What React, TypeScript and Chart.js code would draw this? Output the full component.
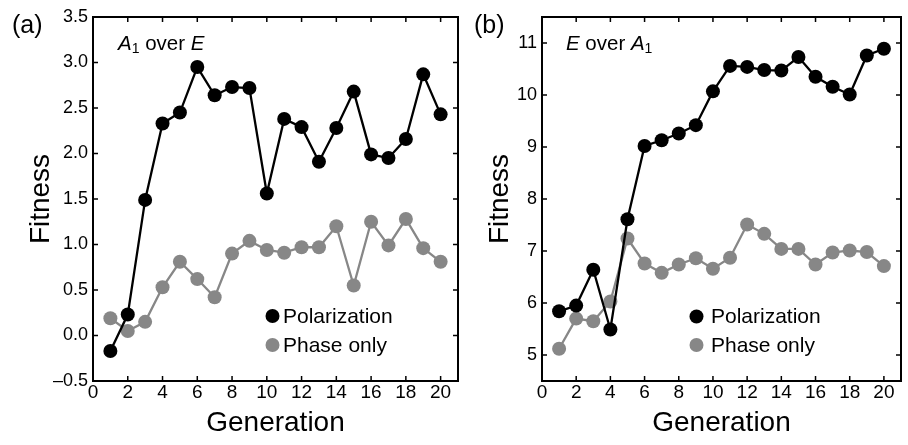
import React, { useEffect, useRef } from 'react';
import { Chart, registerables } from 'chart.js';

Chart.register(...registerables);

// ---------- data ----------
const generations = [1, 2, 3, 4, 5, 6, 7, 8, 9, 10, 11, 12, 13, 14, 15, 16, 17, 18, 19, 20];
const xTickValues = [0, 2, 4, 6, 8, 10, 12, 14, 16, 18, 20];
const leftYTickValues = [-0.5, 0, 0.5, 1.0, 1.5, 2.0, 2.5, 3.0, 3.5];
const rightYTickValues = [5, 6, 7, 8, 9, 10, 11];
const seriesLabels = ['Polarization', 'Phase only'];

const leftPolarization = [-0.17, 0.23, 1.49, 2.33, 2.45, 2.95, 2.64, 2.73, 2.72, 1.56, 2.38, 2.29, 1.91, 2.28, 2.68, 1.99, 1.95, 2.16, 2.87, 2.43];
const leftPhaseOnly = [0.19, 0.05, 0.15, 0.53, 0.81, 0.62, 0.42, 0.9, 1.04, 0.94, 0.91, 0.97, 0.97, 1.2, 0.55, 1.25, 0.99, 1.28, 0.96, 0.81];
const rightPolarization = [5.84, 5.95, 6.64, 5.49, 7.61, 9.02, 9.13, 9.26, 9.42, 10.07, 10.56, 10.54, 10.48, 10.47, 10.73, 10.35, 10.16, 10.01, 10.76, 10.89];
const rightPhaseOnly = [5.12, 5.7, 5.65, 6.03, 7.24, 6.76, 6.58, 6.74, 6.86, 6.66, 6.87, 7.51, 7.33, 7.04, 7.04, 6.74, 6.97, 7.01, 6.98, 6.71];

const SANS = '"Liberation Sans", Arial, sans-serif';
const NARROW = '"Liberation Sans Narrow", "Liberation Sans", Arial, sans-serif';
const BLACK = '#000000';
const GRAY = '#878787';

// ---------- plugins ----------
const framePlugin = {
  id: 'frameTicks',
  afterDraw(chart: any) {
    const { ctx, chartArea } = chart;
    const { left, right, top, bottom } = chartArea;
    const xs = chart.scales.x;
    const ys = chart.scales.y;
    ctx.save();
    ctx.strokeStyle = BLACK;
    ctx.lineWidth = 1.5;
    const tl = 5;
    ctx.beginPath();
    xs.ticks.forEach((t: any) => {
      const px = xs.getPixelForValue(t.value);
      if (px <= left + 1 || px >= right - 1) return;
      ctx.moveTo(px, bottom);
      ctx.lineTo(px, bottom - tl);
      ctx.moveTo(px, top);
      ctx.lineTo(px, top + tl);
    });
    ys.ticks.forEach((t: any) => {
      const py = ys.getPixelForValue(t.value);
      if (py <= top + 1 || py >= bottom - 1) return;
      ctx.moveTo(left, py);
      ctx.lineTo(left + tl, py);
      ctx.moveTo(right, py);
      ctx.lineTo(right - tl, py);
    });
    ctx.stroke();
    ctx.lineWidth = 2;
    ctx.strokeRect(left, top, right - left, bottom - top);
    ctx.restore();
  },
};

const decoPlugin = {
  id: 'deco',
  afterDraw(chart: any, _args: any, opts: any) {
    const { ctx } = chart;
    ctx.save();
    ctx.fillStyle = BLACK;
    ctx.textBaseline = 'alphabetic';
    ctx.textAlign = 'left';
    // panel label
    ctx.font = `25px ${SANS}`;
    ctx.fillText(opts.panelLabel, opts.panelX, opts.panelY);
    // annotation segments
    let x = opts.annX;
    (opts.annSegments as any[]).forEach((s) => {
      const size = s.sub ? 14 : 20.5;
      ctx.font = `${s.italic ? 'italic ' : ''}${size}px ${SANS}`;
      ctx.fillText(s.text, x, opts.annY + (s.sub ? 3 : 0));
      x += ctx.measureText(s.text).width;
    });
    // legend
    ctx.textBaseline = 'middle';
    ctx.font = `21px ${SANS}`;
    chart.data.datasets.forEach((ds: any, i: number) => {
      const y = opts.legY + i * opts.legGap;
      ctx.beginPath();
      ctx.fillStyle = ds.pointBackgroundColor;
      ctx.arc(opts.legX, y, 7, 0, Math.PI * 2);
      ctx.fill();
      ctx.fillStyle = BLACK;
      ctx.fillText(ds.label, opts.legTextX, y + 1);
    });
    ctx.restore();
  },
};

// ---------- config ----------
type PanelSpec = {
  width: number;
  yMin: number;
  yMax: number;
  yTicks: number[];
  yFormat: (v: number) => string;
  pol: number[];
  phase: number[];
  yAxisWidth: number;
  yTitlePad: number;
  padRight: number;
  deco: any;
};

function makeConfig(p: PanelSpec): any {
  const mk = (label: string, vals: number[], color: string) => ({
    label,
    data: generations.map((g, i) => ({ x: g, y: vals[i] })),
    borderColor: color,
    backgroundColor: color,
    pointBackgroundColor: color,
    pointBorderColor: color,
    pointBorderWidth: 0,
    pointRadius: 7,
    borderWidth: 2.3,
    tension: 0,
  });
  return {
    type: 'line',
    data: {
      datasets: [mk(seriesLabels[0], p.pol, BLACK), mk(seriesLabels[1], p.phase, GRAY)],
    },
    options: {
      responsive: false,
      animation: false,
      events: [],
      layout: { padding: { left: 0, top: 17, right: p.padRight, bottom: 0 } },
      plugins: {
        legend: { display: false },
        tooltip: { enabled: false },
        deco: p.deco,
      },
      scales: {
        x: {
          type: 'linear',
          min: 0,
          max: 21,
          afterBuildTicks: (s: any) => {
            s.ticks = xTickValues.map((v) => ({ value: v }));
          },
          afterFit: (s: any) => {
            s.height = 64;
          },
          grid: { display: false, drawTicks: false },
          border: { display: false },
          ticks: {
            color: BLACK,
            font: { family: NARROW, size: 19 },
            padding: 0,
            maxRotation: 0,
            autoSkip: false,
            callback: (v: any) => String(v),
          },
          title: {
            display: true,
            text: 'Generation',
            color: BLACK,
            font: { family: SANS, size: 28 },
            padding: { top: 0, bottom: 5 },
          },
        },
        y: {
          type: 'linear',
          min: p.yMin,
          max: p.yMax,
          afterBuildTicks: (s: any) => {
            s.ticks = p.yTicks.map((v) => ({ value: v }));
          },
          afterFit: (s: any) => {
            s.width = p.yAxisWidth;
          },
          grid: { display: false, drawTicks: false },
          border: { display: false },
          ticks: {
            color: BLACK,
            font: { family: SANS, size: 18 },
            padding: 5,
            autoSkip: false,
            callback: (v: any) => p.yFormat(Number(v)),
          },
          title: {
            display: true,
            text: 'Fitness',
            color: BLACK,
            font: { family: SANS, size: 28 },
            padding: { top: p.yTitlePad, bottom: 0 },
          },
        },
      },
    },
    plugins: [framePlugin, decoPlugin],
  };
}

const leftSpec: PanelSpec = {
  width: 465,
  yMin: -0.5,
  yMax: 3.5,
  yTicks: leftYTickValues,
  yFormat: (v) => v.toFixed(1).replace('-', '\u2013'),
  pol: leftPolarization,
  phase: leftPhaseOnly,
  yAxisWidth: 93,
  yTitlePad: 24,
  padRight: 6,
  deco: {
    panelLabel: '(a)',
    panelX: 12,
    panelY: 33,
    annX: 118,
    annY: 49.5,
    annSegments: [
      { text: 'A', italic: true },
      { text: '1', sub: true },
      { text: ' over ' },
      { text: 'E', italic: true },
    ],
    legX: 272.5,
    legY: 316,
    legGap: 29,
    legTextX: 283,
  },
};

const rightSpec: PanelSpec = {
  width: 443,
  yMin: 4.5,
  yMax: 11.5,
  yTicks: rightYTickValues,
  yFormat: (v) => String(Math.round(v)),
  pol: rightPolarization,
  phase: rightPhaseOnly,
  yAxisWidth: 77,
  yTitlePad: 18,
  padRight: 1,
  deco: {
    panelLabel: '(b)',
    panelX: 9,
    panelY: 33,
    annX: 101,
    annY: 49.5,
    annSegments: [
      { text: 'E', italic: true },
      { text: ' over ' },
      { text: 'A', italic: true },
      { text: '1', sub: true },
    ],
    legX: 231.5,
    legY: 316.5,
    legGap: 28.5,
    legTextX: 246,
  },
};

function Panel({ spec, left }: { spec: PanelSpec; left: number }) {
  const ref = useRef<HTMLCanvasElement | null>(null);
  useEffect(() => {
    if (!ref.current) return;
    const chart = new Chart(ref.current, makeConfig(spec));
    return () => chart.destroy();
  }, [spec]);
  return (
    <canvas
      ref={ref}
      width={spec.width}
      height={445}
      style={{ position: 'absolute', left, top: 0, width: spec.width, height: 445, display: 'block' }}
    />
  );
}

export default function App() {
  return (
    <div style={{ position: 'absolute', left: 0, top: 0, width: 908, height: 445, background: '#fff', overflow: 'hidden' }}>
      <Panel spec={leftSpec} left={0} />
      <Panel spec={rightSpec} left={465} />
    </div>
  );
}
